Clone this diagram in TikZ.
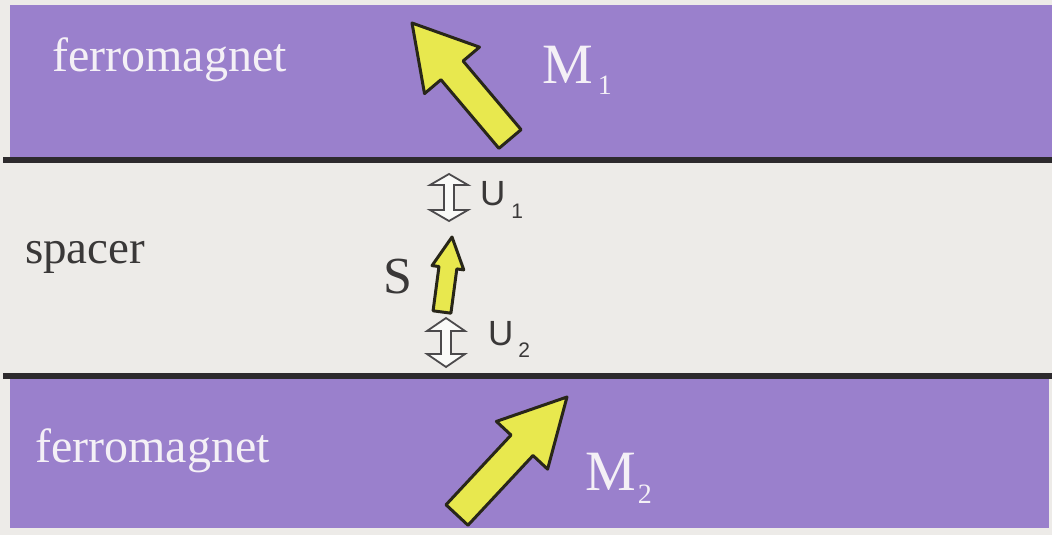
\documentclass[tikz,border=0pt]{standalone}
\usepackage{fontspec}
\setmainfont{Liberation Serif}
\setsansfont{Liberation Sans}
\usetikzlibrary{calc}
\definecolor{bgc}{RGB}{237,235,232}
\definecolor{purp}{RGB}{154,128,204}
\definecolor{linec}{RGB}{45,42,45}
\definecolor{yel}{RGB}{232,232,78}
\definecolor{yelo}{RGB}{40,38,25}
\definecolor{ptext}{RGB}{244,240,246}
\definecolor{stext}{RGB}{58,56,56}
\definecolor{hollow}{RGB}{250,250,248}
\newcommand{\blockarr}[6]{%
  \coordinate (#1n) at ($(#3)!#6!(#2)$);
  \filldraw[yarrow] ($(#2)!#4!90:(#3)$) -- ($(#1n)!#4!90:(#3)$) -- ($(#1n)!#5!90:(#3)$)
    -- (#3) -- ($(#1n)!#5!-90:(#3)$) -- ($(#1n)!#4!-90:(#3)$) -- ($(#2)!#4!-90:(#3)$) -- cycle;}
\newcommand{\dblarr}[6]{%
  \coordinate (#1a) at ($(#2)!#6!(#3)$);
  \coordinate (#1b) at ($(#3)!#6!(#2)$);
  \filldraw[uarrow] (#2) -- ($(#1a)!#5!90:(#3)$) -- ($(#1a)!#4!90:(#3)$) -- ($(#1b)!#4!-90:(#2)$)
    -- ($(#1b)!#5!-90:(#2)$) -- (#3) -- ($(#1b)!#5!90:(#2)$) -- ($(#1b)!#4!90:(#2)$)
    -- ($(#1a)!#4!-90:(#3)$) -- ($(#1a)!#5!-90:(#3)$) -- cycle;}
\tikzset{
  yarrow/.style={fill=yel, draw=yelo, line width=3pt, line join=round},
  uarrow/.style={fill=hollow, draw=linec!85, line width=1.8pt, line join=miter},
  band/.style={fill=purp, draw=none},
  sep/.style={draw=linec, line width=5.5pt},
  lbl/.style={inner sep=0pt, anchor=base west},
  ptxt/.style={lbl, text=ptext, font=\fontsize{48}{56}\selectfont},
  stxt/.style={lbl, text=stext, font=\fontsize{47}{54}\selectfont},
  mtxt/.style={lbl, text=ptext, font=\fontsize{57}{62}\selectfont},
  utxt/.style={lbl, text=stext, font=\sffamily\fontsize{35}{40}\selectfont},
}
\begin{document}
\begin{tikzpicture}[x=1pt,y=-1pt]
\fill[bgc] (0,0) rectangle (1052,535);
\useasboundingbox (0,0) rectangle (1052,535);
% bands
\fill[band] (10,5) rectangle (1052,160);
\fill[band] (10,376) rectangle (1049,528);
\coordinate (l1a) at (3,160); \coordinate (l1b) at (1052,160);
\coordinate (l2a) at (3,376); \coordinate (l2b) at (1052,376);
\draw[sep] (l1a) -- (l1b);
\draw[sep] (l2a) -- (l2b);
% labels
\node[ptxt] (fm1) at (52,72) {ferromagnet};
\node[stxt] (sp) at (25,263) {spacer};
\node[ptxt] (fm2) at (35,462) {ferromagnet};
\node[mtxt] (m1) at (542,83) {M\hspace{5pt}\raisebox{-12pt}{\fontsize{28}{30}\selectfont 1}};
\node[mtxt] (m2) at (585,490) {M\hspace{2pt}\raisebox{-13pt}{\fontsize{28}{30}\selectfont 2}};
\node[lbl, text=stext, font=\fontsize{52}{58}\selectfont] (s) at (383,293) {S};
\node[utxt] (u1) at (480,205) {U\hspace{6pt}\raisebox{-13pt}{\fontsize{21}{24}\selectfont 1}};
\node[utxt] (u2) at (488,345) {U\hspace{5pt}\raisebox{-12pt}{\fontsize{21}{24}\selectfont 2}};
% magnetisation arrows
\coordinate (m1t) at (510,139); \coordinate (m1h) at (412,23);
\blockarr{am1}{m1t}{m1h}{14.5pt}{36pt}{62pt}
\coordinate (m2t) at (457,515); \coordinate (m2h) at (567,397);
\blockarr{am2}{m2t}{m2h}{15pt}{35pt}{66pt}
\coordinate (st) at (442,312); \coordinate (sh) at (452,237);
\blockarr{as}{st}{sh}{9pt}{16pt}{31pt}
% U double arrows
\coordinate (u1t) at (449,174); \coordinate (u1b) at (449,221);
\dblarr{du1}{u1t}{u1b}{5pt}{19pt}{11pt}
\coordinate (u2t) at (446,318); \coordinate (u2b) at (446,367);
\dblarr{du2}{u2t}{u2b}{5pt}{19pt}{13pt}
\end{tikzpicture}
\end{document}
